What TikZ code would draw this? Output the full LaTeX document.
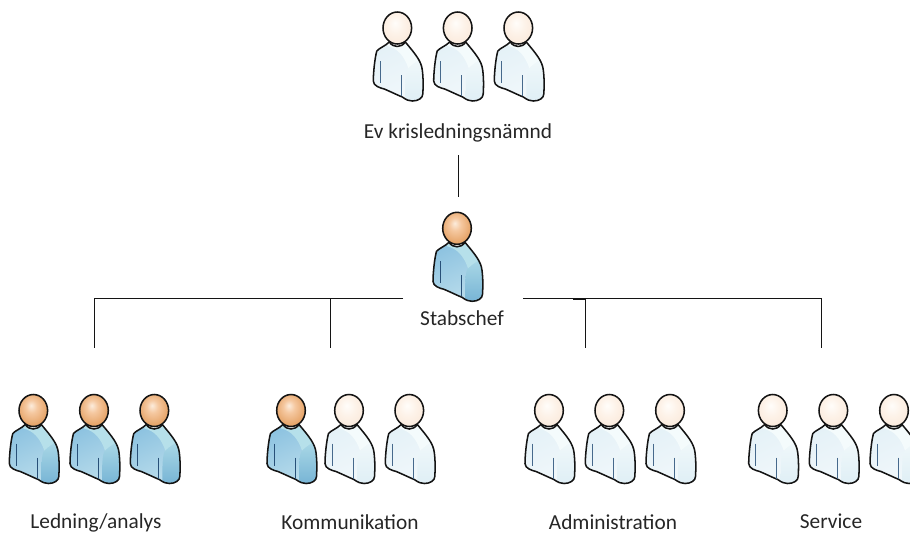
\documentclass[tikz,border=0pt]{standalone}
\usepackage{fontspec}
\setmainfont{Carlito}
\definecolor{lineblack}{RGB}{20,20,20}
\definecolor{bodyO}{RGB}{140,194,224}
\definecolor{bodyOb}{RGB}{188,222,236}
\definecolor{sleeveO}{RGB}{116,178,212}
\definecolor{sleevetopO}{RGB}{170,216,230}
\definecolor{collarO}{RGB}{182,224,234}
\definecolor{seamO}{RGB}{40,80,120}
\definecolor{bodyW}{RGB}{228,241,247}
\definecolor{bodyWb}{RGB}{242,248,251}
\definecolor{sleeveW}{RGB}{222,238,245}
\definecolor{sleevetopW}{RGB}{240,248,250}
\definecolor{collarW}{RGB}{244,251,252}
\definecolor{seamW}{RGB}{70,105,140}
\definecolor{headOa}{RGB}{252,236,220}
\definecolor{headOb}{RGB}{245,200,160}
\definecolor{headOc}{RGB}{226,156,92}
\definecolor{headOd}{RGB}{205,125,60}
\definecolor{headWa}{RGB}{255,253,250}
\definecolor{headWb}{RGB}{253,242,232}
\definecolor{headWc}{RGB}{246,222,202}
\pgfdeclareradialshading{headO}{\pgfpoint{-4bp}{8bp}}{%
  color(0bp)=(headOa);
  color(10bp)=(headOb);
  color(30bp)=(headOc);
  color(50bp)=(headOd)}
\pgfdeclareradialshading{headW}{\pgfpoint{-4bp}{8bp}}{%
  color(0bp)=(headWa);
  color(15bp)=(headWb);
  color(50bp)=(headWc)}
\newcommand{\bodypath}{(-8,14) .. controls (-12,18) and (-18,20) .. (-20.5,23)
  .. controls (-22.5,30) and (-24,45) .. (-24,53)
  .. controls (-24,58) and (-17,60) .. (-13,61)
  .. controls (-6,64) and (0,67) .. (5,69)
  .. controls (9,72) and (12,73) .. (15,73)
  .. controls (21,73) and (25.5,70) .. (25.5,66)
  .. controls (26,58) and (26,50) .. (25,42)
  .. controls (24,33) and (18,26) .. (8,14)
  .. controls (4,20) and (-4,20) .. cycle}
\tikzset{
  link/.style={draw=lineblack, line width=0.6pt},
  label/.style={inner sep=0pt, anchor=base, font=\fontsize{16pt}{18pt}\selectfont, text=black!85},
  pics/person/.style={code={
    \begin{scope}
      \clip \bodypath;
      \shade[left color=body#1, right color=body#1b, shading angle=25] (-26,12) rectangle (28,76);
      \shade[top color=sleevetop#1, bottom color=sleeve#1] (8,76) .. controls (8,55) and (8,44) .. (11,40) .. controls (15,36) and (20,33) .. (24,31) -- (28,76) -- cycle;
      \fill[collar#1] (-10,18) .. controls (0,20) and (7,28) .. (11,40) .. controls (15,36) and (20,33) .. (24,31) -- (10,12) -- (-10,12) -- cycle;
    \end{scope}
    \draw[lineblack, line width=1.15pt, line join=round] \bodypath;
    \draw[seam#1, line width=0.6pt] (-17,33) -- (-17,55);
    \draw[seam#1, line width=0.6pt] (4,47) -- (4,68);
    \shade[shading=head#1] (0,0) ellipse (14.3 and 16);
    \draw[lineblack, line width=1.15pt] (0,0) ellipse (14.3 and 16);
  }}
}
\begin{document}
\begin{tikzpicture}[x=0.75pt, y=-0.75pt]
  \useasboundingbox (0,0) rectangle (910,533);
  \clip (0,0) rectangle (910,533);

  % people
  \pic (top1) at (397.3,28) {person=W};
  \pic (top2) at (457.7,28) {person=W};
  \pic (top3) at (518.3,28) {person=W};
  \pic (chief) at (457,228.3) {person=O};
  \pic (led1) at (33.3,410.5) {person=O};
  \pic (led2) at (94,410.5) {person=O};
  \pic (led3) at (154.3,410.5) {person=O};
  \pic (kom1) at (291,410.5) {person=O};
  \pic (kom2) at (349,410.5) {person=W};
  \pic (kom3) at (409.3,410.5) {person=W};
  \pic (adm1) at (549,410.5) {person=W};
  \pic (adm2) at (609.3,410.5) {person=W};
  \pic (adm3) at (670,410.5) {person=W};
  \pic (ser1) at (772.7,410.5) {person=W};
  \pic (ser2) at (833.3,410.5) {person=W};
  \pic (ser3) at (894,410.5) {person=W};

  % labels
  \node[label] (nämnd) at (458,138) {Ev krisledningsnämnd};
  \node[label] (stab) at (462,325) {Stabschef};
  \node[label] (led) at (96,528) {Ledning/analys};
  \node[label] (kom) at (350,529) {Kommunikation};
  \node[label] (adm) at (613,529) {Administration};
  \node[label] (ser) at (831,528) {Service};

  % line ends
  \coordinate (n1) at (458,155);
  \coordinate (n2) at (458,197);
  \coordinate (l0) at (403,298);
  \coordinate (l1) at (330,298);
  \coordinate (l2) at (94,298);
  \coordinate (l1b) at (330,348);
  \coordinate (l2b) at (94,348);
  \coordinate (r0) at (523,298);
  \coordinate (r1) at (585,298);
  \coordinate (r2) at (821,298);
  \coordinate (r1b) at (585,348);
  \coordinate (r2b) at (821,348);
  \coordinate (r3) at (573,299);

  \draw[link] (n1) -- (n2);
  \draw[link] (l0) -- (l1);
  \draw[link] (l1) -- (l2);
  \draw[link] (l1) -- (l1b);
  \draw[link] (l2) -- (l2b);
  \draw[link] (r0) -- (r2);
  \draw[link] (r3) -- (r1 |- r3) -- (r1b);
  \draw[link] (r2) -- (r2b);
\end{tikzpicture}
\end{document}
